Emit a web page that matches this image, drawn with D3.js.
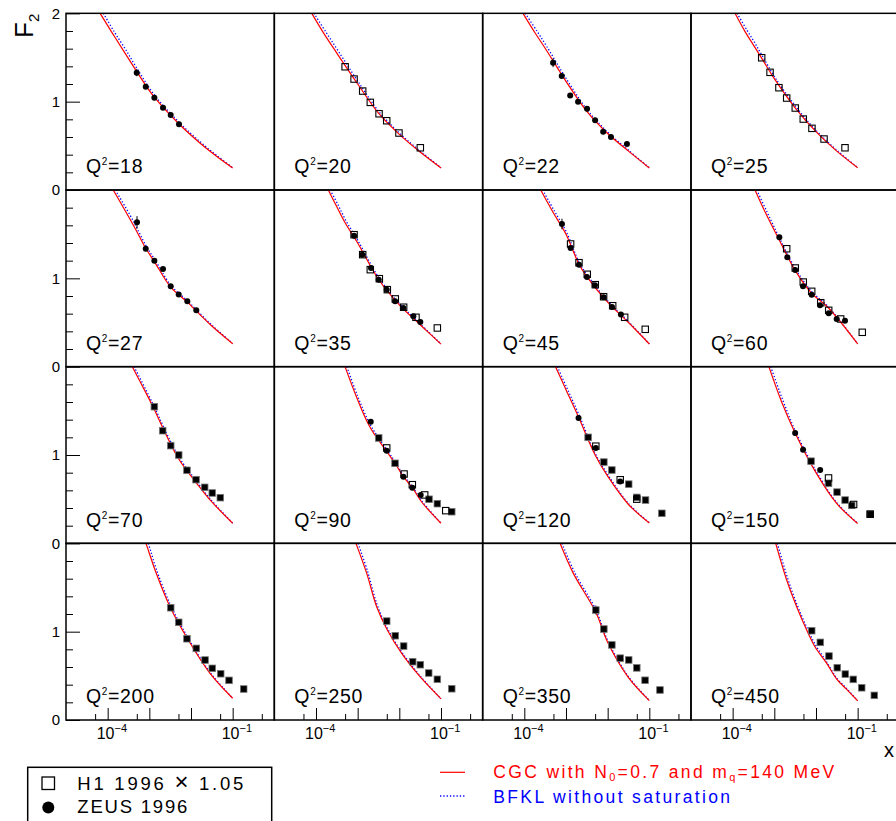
<!DOCTYPE html>
<html>
<head>
<meta charset="utf-8">
<script src="https://cdn.jsdelivr.net/npm/d3@7"></script>
<style>
  body { margin: 0; background: #fff; }
  svg { display: block; font-family: "Liberation Sans", Arial, Helvetica, sans-serif; }
</style>
</head>
<body>
<div id="chart"></div>
<script>
// panel labels (Q^2 values), row by row
const q2Labels = [18, 20, 22, 25, 27, 35, 45, 60, 70, 90, 120, 150, 200, 250, 350, 450];

// CGC curves (red), [x, F2] per panel
const cgcCurves = [
  [[6.6e-5,2.0],[1.26e-4,1.785],[2.45e-4,1.57],[5.0e-4,1.34],[1.32e-3,1.05],[5.1e-3,0.75],[1.66e-2,0.53],[4.17e-2,0.38],[0.1,0.25]],
  [[7.9e-5,2.0],[1.58e-4,1.765],[3.16e-4,1.55],[1.0e-3,1.20],[3.16e-3,0.87],[1.0e-2,0.63],[3.16e-2,0.43],[0.1,0.25]],
  [[9.3e-5,2.0],[1.8e-4,1.78],[3.16e-4,1.605],[1.0e-3,1.23],[3.16e-3,0.89],[1.0e-2,0.64],[3.16e-2,0.44],[0.1,0.25]],
  [[1.14e-4,2.0],[2.0e-4,1.79],[3.16e-4,1.64],[5.0e-4,1.49],[1.0e-3,1.26],[3.16e-3,0.93],[1.0e-2,0.66],[3.16e-2,0.44],[0.1,0.252]],
  [[1.36e-4,2.0],[3.16e-4,1.70],[5.0e-4,1.53],[8.2e-4,1.34],[1.32e-3,1.19],[3.26e-3,0.90],[8.2e-3,0.73],[1.34e-2,0.63],[3.16e-2,0.46],[0.1,0.26]],
  [[1.98e-4,2.0],[3.16e-4,1.81],[5.0e-4,1.63],[1.0e-3,1.40],[3.16e-3,0.99],[1.0e-2,0.70],[3.16e-2,0.475],[0.1,0.255]],
  [[2.47e-4,2.0],[5.0e-4,1.74],[1.0e-3,1.50],[2.05e-3,1.16],[3.16e-3,1.02],[1.0e-2,0.73],[3.16e-2,0.50],[0.1,0.257]],
  [[3.44e-4,2.0],[6.3e-4,1.73],[1.24e-3,1.457],[3.16e-3,1.09],[7.9e-3,0.83],[2.0e-2,0.664],[0.1,0.257]],
  [[3.9e-4,2.0],[1.0e-3,1.63],[1.24e-3,1.54],[4.95e-3,0.963],[1.37e-2,0.68],[2.86e-2,0.491],[0.1,0.227]],
  [[4.98e-4,2.0],[9.5e-4,1.65],[1.98e-3,1.314],[4.98e-3,1.04],[7.9e-3,0.906],[1.25e-2,0.755],[2.05e-2,0.63],[3.44e-2,0.468],[0.1,0.227]],
  [[5.6e-4,2.0],[1.0e-3,1.74],[2.0e-3,1.43],[5.0e-3,1.0],[1.0e-2,0.76],[3.16e-2,0.44],[0.1,0.23]],
  [[7.4e-4,2.0],[1.5e-3,1.6],[3.16e-3,1.25],[1.0e-2,0.80],[3.16e-2,0.45],[0.1,0.225]],
  [[8.3e-4,2.0],[1.0e-3,1.888],[1.37e-3,1.699],[3.13e-3,1.283],[8.6e-3,0.906],[2.86e-2,0.529],[0.1,0.246]],
  [[9.1e-4,2.0],[1.65e-3,1.66],[2.86e-3,1.282],[5.15e-3,1.018],[1.14e-2,0.754],[3.14e-2,0.49],[0.1,0.24]],
  [[7.2e-4,2.0],[1.5e-3,1.66],[5.2e-3,1.22],[1.0e-2,0.88],[3.16e-2,0.48],[0.1,0.22]],
  [[1.08e-3,2.0],[1.98e-3,1.585],[3.44e-3,1.283],[5.98e-3,1.019],[9.46e-3,0.829],[1.81e-2,0.641],[3.14e-2,0.464],[5.45e-2,0.347],[0.1,0.218]]
];

// BFKL without saturation (blue dotted)
const bfklCurves = [
  [[7.9e-5,2.0],[1.42e-4,1.795],[2.7e-4,1.59],[5.3e-4,1.36],[1.35e-3,1.07],[5.1e-3,0.77],[1.66e-2,0.545],[4.17e-2,0.39],[0.1,0.252]],
  [[8.9e-5,2.0],[1.75e-4,1.785],[3.4e-4,1.575],[1.03e-3,1.225],[3.2e-3,0.89],[1.0e-2,0.645],[3.16e-2,0.44],[0.1,0.252]],
  [[1.05e-4,2.0],[2.0e-4,1.80],[3.4e-4,1.63],[1.03e-3,1.255],[3.2e-3,0.91],[1.0e-2,0.655],[3.16e-2,0.45],[0.1,0.252]],
  [[1.28e-4,2.0],[2.2e-4,1.81],[3.4e-4,1.665],[5.2e-4,1.515],[1.02e-3,1.28],[3.2e-3,0.95],[1.0e-2,0.675],[3.16e-2,0.45],[0.1,0.254]],
  [[1.52e-4,2.0],[3.4e-4,1.72],[5.2e-4,1.555],[8.4e-4,1.365],[1.34e-3,1.215],[3.3e-3,0.92],[8.2e-3,0.745],[1.34e-2,0.645],[3.16e-2,0.47],[0.1,0.262]],
  [[2.2e-4,2.0],[3.4e-4,1.83],[5.2e-4,1.655],[1.02e-3,1.425],[3.2e-3,1.01],[1.0e-2,0.715],[3.16e-2,0.485],[0.1,0.257]],
  [[2.75e-4,2.0],[5.3e-4,1.76],[1.02e-3,1.525],[2.07e-3,1.18],[3.2e-3,1.04],[1.0e-2,0.745],[3.16e-2,0.51],[0.1,0.259]],
  [[3.8e-4,2.0],[6.7e-4,1.75],[1.27e-3,1.475],[3.2e-3,1.11],[7.9e-3,0.85],[2.0e-2,0.675],[0.1,0.259]],
  [[4.3e-4,2.0],[1.04e-3,1.645],[1.27e-3,1.56],[5.0e-3,0.985],[1.37e-2,0.70],[2.86e-2,0.505],[0.1,0.229]],
  [[5.5e-4,2.0],[1.0e-3,1.665],[2.05e-3,1.335],[5.0e-3,1.06],[7.9e-3,0.925],[1.25e-2,0.772],[2.05e-2,0.645],[3.44e-2,0.48],[0.1,0.229]],
  [[6.2e-4,2.0],[1.05e-3,1.76],[2.05e-3,1.455],[5.0e-3,1.02],[1.0e-2,0.78],[3.16e-2,0.45],[0.1,0.232]],
  [[8.2e-4,2.0],[1.6e-3,1.62],[3.2e-3,1.27],[1.0e-2,0.82],[3.16e-2,0.46],[0.1,0.227]],
  [[9.4e-4,2.0],[1.1e-3,1.90],[1.45e-3,1.715],[3.2e-3,1.305],[8.6e-3,0.925],[2.86e-2,0.54],[0.1,0.248]],
  [[1.02e-3,2.0],[1.75e-3,1.675],[2.95e-3,1.30],[5.2e-3,1.035],[1.14e-2,0.77],[3.14e-2,0.50],[0.1,0.242]],
  [[8.0e-4,2.0],[1.6e-3,1.675],[5.3e-3,1.24],[1.0e-2,0.90],[3.16e-2,0.49],[0.1,0.222]],
  [[1.18e-3,2.0],[2.1e-3,1.60],[3.55e-3,1.30],[6.2e-3,1.035],[9.8e-3,0.848],[1.81e-2,0.655],[3.14e-2,0.475],[5.45e-2,0.355],[0.1,0.22]]
];

// H1 1996 x 1.05 (open squares), [x, F2]
const h1Points = [
  [],
  [[5.0e-4,1.395],[8.2e-4,1.256],[1.32e-3,1.12],[2.01e-3,0.992],[3.26e-3,0.863],[4.98e-3,0.784],[9.8e-3,0.645],[3.19e-2,0.478]],
  [],
  [[4.98e-4,1.497],[7.9e-4,1.332],[1.29e-3,1.158],[1.98e-3,1.041],[3.18e-3,0.928],[4.95e-3,0.803],[8.0e-3,0.698],[1.56e-2,0.577],[4.97e-2,0.478]],
  [],
  [[8.2e-4,1.494],[1.32e-3,1.268],[2.01e-3,1.098],[3.31e-3,0.996],[5.15e-3,0.872],[8.0e-3,0.767],[1.27e-2,0.673],[2.51e-2,0.559],[8.17e-2,0.438]],
  [[1.29e-3,1.389],[2.05e-3,1.177],[3.24e-3,1.046],[5.04e-3,0.928],[8.0e-3,0.792],[1.32e-2,0.690],[2.56e-2,0.559],[7.98e-2,0.423]],
  [[1.98e-3,1.335],[3.18e-3,1.117],[4.95e-3,0.958],[7.89e-3,0.853],[1.30e-2,0.724],[2.02e-2,0.638],[3.91e-2,0.540],[0.129,0.389]],
  [],
  [[4.98e-3,1.080],[1.30e-2,0.785],[2.05e-2,0.664],[4.06e-2,0.548],[0.130,0.370]],
  [[5.2e-3,1.10],[2.0e-2,0.72],[5.0e-2,0.50]],
  [[2.0e-2,0.74],[8.0e-2,0.44],[0.2,0.33]],
  [], [], [], []
];

// ZEUS 1996 (filled circles), [x, F2, error]
const zeusCircles = [
  [[4.98e-4,1.328,0.04],[8.2e-4,1.169],[1.32e-3,1.045],[2.13e-3,0.931],[3.26e-3,0.849],[5.15e-3,0.743]],
  [],
  [[4.9e-4,1.44,0.05],[7.9e-4,1.29],[1.26e-3,1.07],[1.95e-3,1.0],[3.2e-3,0.92],[5.0e-3,0.79],[7.8e-3,0.66],[1.2e-2,0.60],[2.9e-2,0.52]],
  [],
  [[5.06e-4,1.634,0.07],[8.2e-4,1.335],[1.32e-3,1.2],[2.13e-3,1.106],[3.26e-3,0.91],[5.07e-3,0.816],[8.15e-3,0.741],[1.34e-2,0.639]],
  [[8.2e-4,1.483],[1.29e-3,1.268],[2.09e-3,1.117],[3.2e-3,0.985],[4.98e-3,0.872],[7.89e-3,0.741],[1.25e-2,0.665],[2.17e-2,0.571],[3.19e-2,0.506]],
  [[8.0e-4,1.615,0.06],[1.29e-3,1.343],[2.05e-3,1.154],[3.18e-3,1.015],[4.95e-3,0.921],[8.0e-3,0.785],[1.27e-2,0.675],[2.08e-2,0.592]],
  [[1.32e-3,1.465],[2.05e-3,1.238],[3.18e-3,1.094],[4.88e-3,0.91],[7.89e-3,0.815],[1.25e-2,0.695],[2.02e-2,0.604],[3.14e-2,0.540],[4.97e-2,0.520]],
  [],
  [[2.06e-3,1.376],[4.98e-3,1.049],[1.25e-2,0.755],[2.05e-2,0.630],[3.26e-2,0.548]],
  [[2.0e-3,1.42],[5.2e-3,1.08],[2.0e-2,0.70]],
  [[3.16e-3,1.25],[4.9e-3,1.06],[1.26e-2,0.83]],
  [], [], [], []
];

// ZEUS 1996 high-Q2 bins (filled squares)
const zeusSquares = [
  [], [], [], [], [], [], [], [],
  [[1.32e-3,1.547],[2.09e-3,1.275],[3.26e-3,1.106],[5.07e-3,1.0],[8.0e-3,0.827],[1.32e-2,0.721],[2.13e-2,0.634],[3.24e-2,0.57],[5.05e-2,0.517]],
  [[3.2e-3,1.193],[7.89e-3,0.906],[5.16e-2,0.499],[8.17e-2,0.449],[0.181,0.358]],
  [[3.4e-3,1.20],[8.1e-3,0.92],[1.26e-2,0.83],[3.2e-2,0.67],[5.0e-2,0.52],[8.1e-2,0.49],[0.2,0.34]],
  [[7.6e-3,0.93],[2.0e-2,0.68],[3.2e-2,0.58],[5.0e-2,0.49],[7.2e-2,0.43],[0.2,0.33]],
  [[3.26e-3,1.271],[5.07e-3,1.106],[8.0e-3,0.920],[1.34e-2,0.811],[2.17e-2,0.679],[3.24e-2,0.585],[5.16e-2,0.524],[8.17e-2,0.449],[0.184,0.351]],
  [[4.98e-3,1.120],[8.0e-3,0.954],[1.27e-2,0.837],[2.09e-2,0.660],[3.19e-2,0.626],[5.07e-2,0.532],[8.17e-2,0.461],[0.181,0.354]],
  [[5.2e-3,1.245,0.05],[8.1e-3,1.03],[1.26e-2,0.85],[2.0e-2,0.70],[3.2e-2,0.68],[5.0e-2,0.59],[7.9e-2,0.45],[0.18,0.34]],
  [[7.89e-3,1.011],[1.27e-2,0.879],[2.05e-2,0.724],[3.24e-2,0.592],[5.05e-2,0.52],[7.85e-2,0.46],[0.125,0.365],[0.251,0.279]]
];

// axis ticks
const xMajorTicks = [1e-4, 1e-3, 1e-2, 1e-1];
const xMinorTicks = [5e-5, 5e-4, 5e-3, 5e-2, 5e-1];
const xLabelTicks = [[1e-4, "4"], [1e-1, "1"]];
const yMajorTicks = [0, 1, 2];
const yMinorTicks = [0.2, 0.4, 0.6, 0.8, 1.2, 1.4, 1.6, 1.8];

const W = 896, H = 821;
const padLeft = 66, padTop = 13.33;
const pw = 208.33, ph = 176.67;

const svg = d3.select("#chart").append("svg")
    .attr("width", W)
    .attr("height", H);

const x = d3.scaleLog().domain([1e-5, 1]).range([0, pw]);
const y = d3.scaleLinear().domain([0, 2]).range([ph, 0]);

const line = d3.line()
    .x(d => x(d[0]))
    .y(d => y(d[1]))
    .curve(d3.curveCatmullRom.alpha(0.5));

q2Labels.forEach((q, i) => {
    const r = Math.floor(i / 4), c = i % 4;
    const g = svg.append("g")
        .attr("transform", `translate(${padLeft + c * pw},${padTop + r * ph})`);

    // curves
    g.append("path").datum(bfklCurves[i])
        .attr("d", line)
        .attr("fill", "none")
        .attr("stroke", "#0000ff")
        .attr("stroke-width", 1.3)
        .attr("stroke-dasharray", "1.3,2");

    g.append("path").datum(cgcCurves[i])
        .attr("d", line)
        .attr("fill", "none")
        .attr("stroke", "#ff0000")
        .attr("stroke-width", 1.2);

    // error bars
    const withErr = zeusCircles[i].concat(zeusSquares[i]).filter(d => d[2]);
    g.selectAll(".err").data(withErr).join("line")
        .attr("x1", d => x(d[0])).attr("x2", d => x(d[0]))
        .attr("y1", d => y(d[1] - d[2])).attr("y2", d => y(d[1] + d[2]))
        .attr("stroke", "#000").attr("stroke-width", 1);

    // ZEUS squares
    g.selectAll(".zsq").data(zeusSquares[i]).join("rect")
        .attr("x", d => x(d[0]) - 3.3).attr("y", d => y(d[1]) - 3.3)
        .attr("width", 6.6).attr("height", 6.6)
        .attr("fill", "#000").attr("stroke", "#777").attr("stroke-width", 0.8);

    // ZEUS circles
    g.selectAll(".zc").data(zeusCircles[i]).join("circle")
        .attr("cx", d => x(d[0])).attr("cy", d => y(d[1]))
        .attr("r", 3)
        .attr("fill", "#000");

    // H1 open squares
    g.selectAll(".h1").data(h1Points[i]).join("rect")
        .attr("x", d => x(d[0]) - 3.2).attr("y", d => y(d[1]) - 3.2)
        .attr("width", 6.4).attr("height", 6.4)
        .attr("fill", "none").attr("stroke", "#000").attr("stroke-width", 1.1);

    // Q^2 label
    const t = g.append("text")
        .attr("x", 20).attr("y", 160)
        .attr("font-size", 19.5)
        .attr("fill", "#000")
        .attr("textLength", q < 100 ? 56.5 : 68)
        .attr("lengthAdjust", "spacing");
    t.append("tspan").text("Q");
    t.append("tspan").attr("font-size", 10).attr("dy", -8).text("2");
    t.append("tspan").attr("dy", 8).text("=" + q);

    // y axis on left column
    if (c === 0) {
        g.append("g")
            .call(d3.axisLeft(y).tickValues(r === 0 ? yMajorTicks : [0, 1]).tickSize(-14).tickPadding(6).tickFormat(d3.format("d")))
            .call(a => a.select(".domain").remove())
            .call(a => a.selectAll("text").attr("font-size", 15).attr("font-family", "Liberation Sans, Arial, sans-serif").attr("fill", "#000"));
        g.append("g")
            .call(d3.axisLeft(y).tickValues(yMinorTicks).tickSize(-7).tickFormat(""))
            .call(a => a.select(".domain").remove());
    }

    // x axis on bottom row
    if (r === 3) {
        g.append("g").attr("transform", `translate(0,${ph})`)
            .call(d3.axisBottom(x).tickValues(xMajorTicks).tickSize(-12).tickFormat(""))
            .call(a => a.select(".domain").remove());
        g.append("g").attr("transform", `translate(0,${ph})`)
            .call(d3.axisBottom(x).tickValues(xMinorTicks).tickSize(-6).tickFormat(""))
            .call(a => a.select(".domain").remove());
        xLabelTicks.forEach(([v, e]) => {
            const lt = g.append("text")
                .attr("x", x(v) - 11).attr("y", ph + 19)
                .attr("font-size", 16).attr("fill", "#000");
            lt.append("tspan").text("10");
            lt.append("tspan").attr("font-size", 11).attr("dy", -7).text("\u2212" + e);
        });
    }

    // frame
    g.append("rect")
        .attr("width", pw).attr("height", ph)
        .attr("fill", "none").attr("stroke", "#000").attr("stroke-width", 1.5);
});

// F2 axis title
const yt = svg.append("text")
    .attr("transform", "translate(33,38) rotate(-90)")
    .attr("font-size", 26).attr("fill", "#000");
yt.append("tspan").text("F");
yt.append("tspan").attr("font-size", 15).attr("dy", 6).text("2");

// x axis title
svg.append("text").attr("x", 884).attr("y", 757)
    .attr("font-size", 20).attr("fill", "#000").text("x");

// legend box: data
svg.append("rect").attr("x", 27.7).attr("y", 767.3).attr("width", 244).attr("height", 70)
    .attr("fill", "#fff").attr("stroke", "#000").attr("stroke-width", 1.5);
svg.append("rect").attr("x", 42).attr("y", 777).attr("width", 12.5).attr("height", 12.5)
    .attr("fill", "none").attr("stroke", "#000").attr("stroke-width", 1.3);
svg.append("circle").attr("cx", 48.3).attr("cy", 807.5).attr("r", 6).attr("fill", "#000");
const lh = svg.append("text").attr("x", 77.3).attr("y", 790).attr("font-size", 18.5)
    .attr("textLength", 166).attr("lengthAdjust", "spacing");
lh.append("tspan").text("H1 1996 ");
lh.append("tspan").attr("font-size", 24).text("\u00d7");
lh.append("tspan").text(" 1.05");
svg.append("text").attr("x", 77.3).attr("y", 813.3).attr("font-size", 18.5)
    .attr("textLength", 110).attr("lengthAdjust", "spacing").text("ZEUS 1996");

// legend: curves
svg.append("line").attr("x1", 440).attr("x2", 465).attr("y1", 772.3).attr("y2", 772.3)
    .attr("stroke", "#ff0000").attr("stroke-width", 1.2);
svg.append("line").attr("x1", 440).attr("x2", 465).attr("y1", 796).attr("y2", 796)
    .attr("stroke", "#0000ff").attr("stroke-width", 1.3).attr("stroke-dasharray", "1.3,2");

const l1 = svg.append("text").attr("x", 493.3).attr("y", 777.7).attr("font-size", 17.5)
    .attr("fill", "#ff0000").attr("textLength", 341).attr("lengthAdjust", "spacing");
l1.append("tspan").text("CGC with N");
l1.append("tspan").attr("font-size", 11).attr("dy", 3).text("0");
l1.append("tspan").attr("dy", -3).text("=0.7 and m");
l1.append("tspan").attr("font-size", 11).attr("dy", 3).text("q");
l1.append("tspan").attr("dy", -3).text("=140 MeV");

svg.append("text").attr("x", 493.3).attr("y", 802.7).attr("font-size", 17.5)
    .attr("fill", "#0000ff").attr("textLength", 236.7).attr("lengthAdjust", "spacing")
    .text("BFKL without saturation");
</script>
</body>
</html>
